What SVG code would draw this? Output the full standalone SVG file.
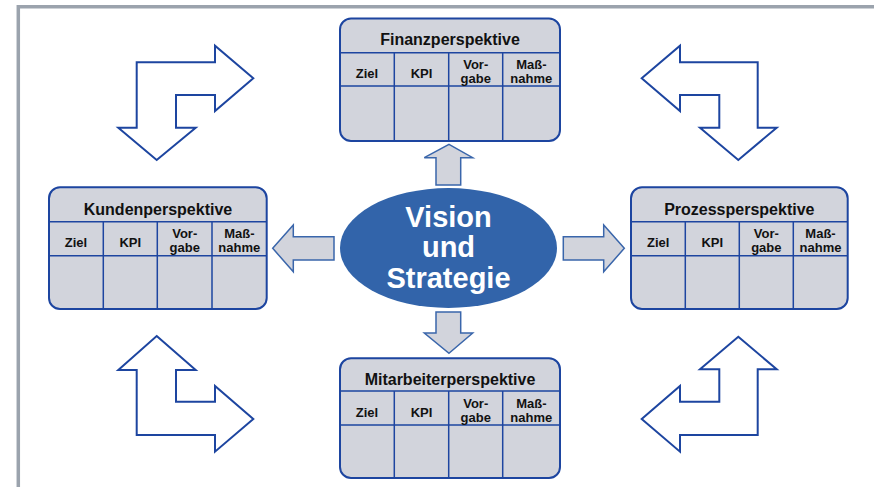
<svg xmlns="http://www.w3.org/2000/svg" width="874" height="487" viewBox="0 0 874 487">
<style>
.frame{fill:none;stroke:#9ba3ad;stroke-width:3.5}
.box{fill:#d2d4dc;stroke:#1d45a0;stroke-width:2}
.ln{stroke:#1d45a0;stroke-width:1.5;fill:none}
.ttl{font-family:"Liberation Sans",Arial,sans-serif;font-weight:bold;font-size:16px;fill:#111;text-anchor:middle}
.col{font-family:"Liberation Sans",Arial,sans-serif;font-weight:bold;font-size:13px;fill:#111;text-anchor:middle}
.conn{fill:#d2d4dc;stroke:#3a66ab;stroke-width:1.5;stroke-linejoin:miter}
.loop{fill:#fff;stroke:#1d45a0;stroke-width:2;stroke-linejoin:miter}
.vis{font-family:"Liberation Sans",Arial,sans-serif;font-weight:bold;font-size:29px;fill:#fff;text-anchor:middle}
</style>
<rect width="874" height="487" fill="#fff"/>
<path class="frame" d="M18.3,487 V6.7 H874"/>

<g id="connectors">
  <polygon class="conn" points="449,144.3 472.7,157.7 460.7,157.7 460.7,185 436,185 436,157.7 424.3,157.7"/>
  <polygon class="conn" points="449,353.3 472.7,333 460.7,333 460.7,312 436,312 436,333 424.3,333"/>
  <polygon class="conn" points="272.7,248.3 293.3,225 293.3,236.7 334,236.7 334,260 293.3,260 293.3,271.7"/>
  <polygon class="conn" points="624.3,248.3 603.7,225 603.7,236.7 563.3,236.7 563.3,260 603.7,260 603.7,271.7"/>
  <polygon class="loop" points="253.3,78.3 215,45.7 215,62.3 136.7,62.3 136.7,127.7 118.3,127.7 156.7,160 195.7,127.7 176,127.7 176,95 215,95 215,111"/>
  <polygon class="loop" points="641.7,78.3 680,45.7 680,62.3 757.7,62.3 757.7,127.7 776.7,127.7 738.3,160 700,127.7 719.3,127.7 719.3,95 680,95 680,111"/>
  <polygon class="loop" points="156.7,336 195.7,370 176,370 176,401.7 215,401.7 215,386 253.3,419 215,451.7 215,435 136.7,435 136.7,370 118.3,370"/>
  <polygon class="loop" points="738.3,336.7 776.7,369.3 757.7,369.3 757.7,435 680,435 680,451.7 641.7,419 680,386 680,401.7 719.3,401.7 719.3,369.3 700,369.3"/>
</g>

<g id="vision">
  <ellipse cx="448.5" cy="248" rx="108.5" ry="60" fill="#3264aa"/>
  <text class="vis" x="448.5" y="227">Vision</text>
  <text class="vis" x="448.5" y="257">und</text>
  <text class="vis" x="448.5" y="288">Strategie</text>
</g>

<g id="finanz">
  <rect class="box" x="340" y="18.5" width="220" height="122.5" rx="11"/>
  <path class="ln" d="M340,52.7 H560 M340,86 H560 M394.3,52.7 V141 M448.7,52.7 V141 M502.7,52.7 V141"/>
  <text class="ttl" x="450" y="45">Finanzperspektive</text>
  <text class="col" x="367" y="78">Ziel</text>
  <text class="col" x="421.5" y="78">KPI</text>
  <text class="col" x="475.7" y="68.5">Vor-</text>
  <text class="col" x="475.7" y="82.5">gabe</text>
  <text class="col" x="531.3" y="68.5">Maß-</text>
  <text class="col" x="531.3" y="82.5">nahme</text>
</g>

<g id="kunden">
  <rect class="box" x="49" y="187.3" width="217.7" height="121.7" rx="11"/>
  <path class="ln" d="M49,221.7 H266.7 M49,255.7 H266.7 M103.3,221.7 V309 M157.3,221.7 V309 M212,221.7 V309"/>
  <text class="ttl" x="158" y="214.5">Kundenperspektive</text>
  <text class="col" x="76" y="247">Ziel</text>
  <text class="col" x="130.3" y="247">KPI</text>
  <text class="col" x="184.7" y="238">Vor-</text>
  <text class="col" x="184.7" y="252">gabe</text>
  <text class="col" x="239.3" y="238">Maß-</text>
  <text class="col" x="239.3" y="252">nahme</text>
</g>

<g id="prozess">
  <rect class="box" x="631" y="187.3" width="216.7" height="121.7" rx="11"/>
  <path class="ln" d="M631,221.7 H847.7 M631,255.7 H847.7 M685.3,221.7 V309 M739.3,221.7 V309 M793.3,221.7 V309"/>
  <text class="ttl" x="739.3" y="214.5">Prozessperspektive</text>
  <text class="col" x="658.2" y="247">Ziel</text>
  <text class="col" x="712.3" y="247">KPI</text>
  <text class="col" x="766.3" y="238">Vor-</text>
  <text class="col" x="766.3" y="252">gabe</text>
  <text class="col" x="820.5" y="238">Maß-</text>
  <text class="col" x="820.5" y="252">nahme</text>
</g>

<g id="mitarbeiter">
  <rect class="box" x="340" y="358.3" width="220" height="119.7" rx="11"/>
  <path class="ln" d="M340,391 H560 M340,425 H560 M394.3,391 V478 M448.7,391 V478 M502.7,391 V478"/>
  <text class="ttl" x="450" y="384.5">Mitarbeiterperspektive</text>
  <text class="col" x="367" y="416.5">Ziel</text>
  <text class="col" x="421.5" y="416.5">KPI</text>
  <text class="col" x="475.7" y="407.5">Vor-</text>
  <text class="col" x="475.7" y="421.5">gabe</text>
  <text class="col" x="531.3" y="407.5">Maß-</text>
  <text class="col" x="531.3" y="421.5">nahme</text>
</g>
</svg>
